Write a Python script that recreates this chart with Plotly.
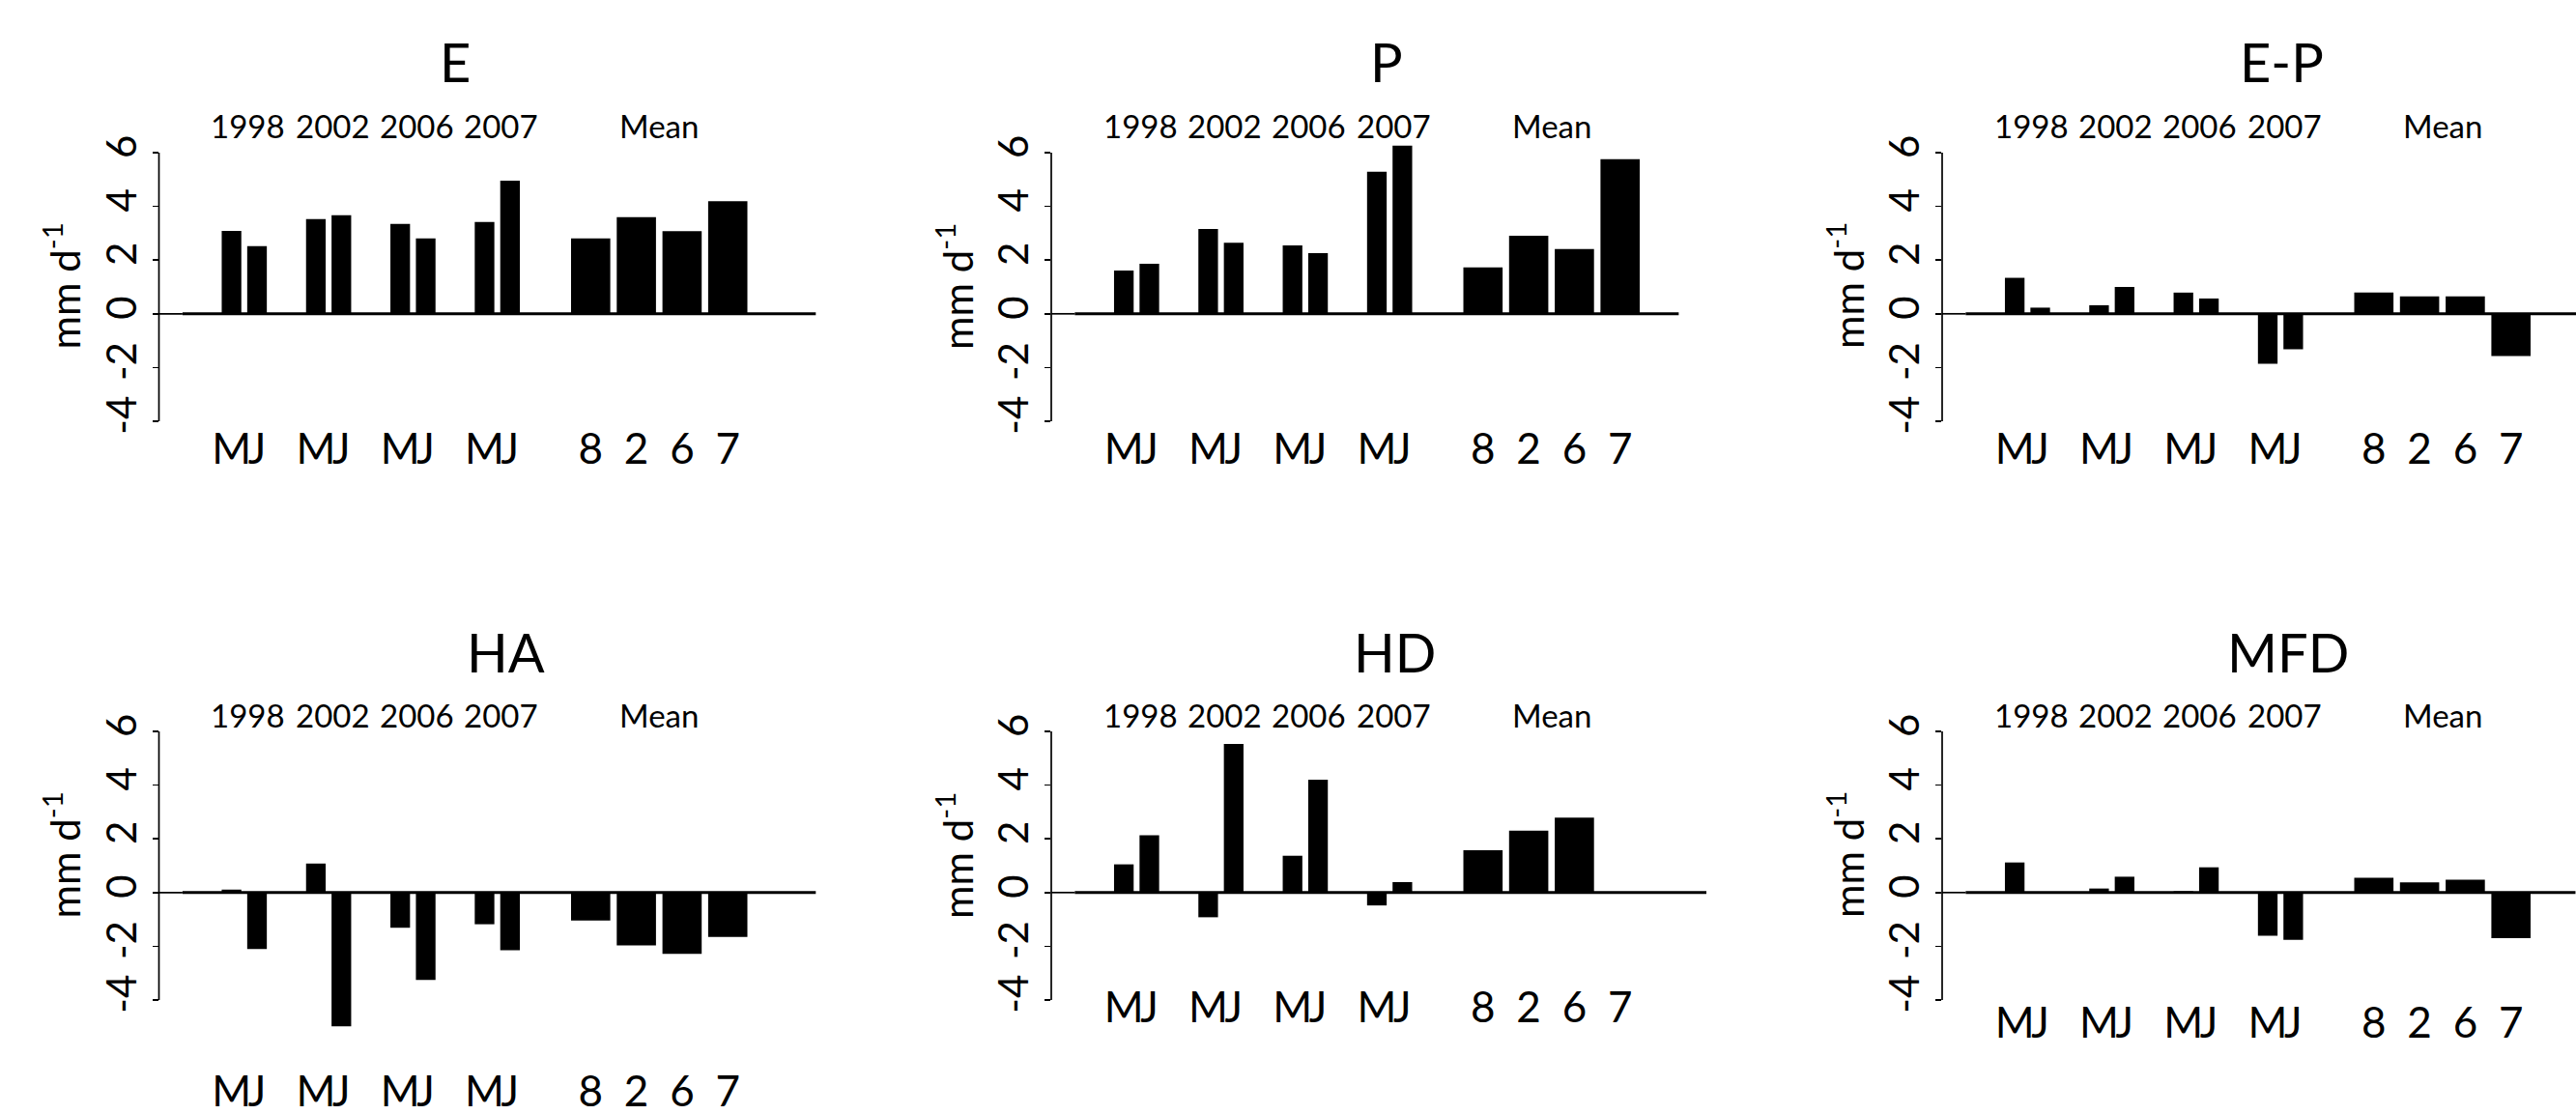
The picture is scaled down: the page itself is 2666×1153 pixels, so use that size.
import plotly.graph_objects as go

W, H = 2666, 1153

# ---------------- data ----------------
panel_names = ["E", "P", "E-P", "HA", "HD", "MFD"]
years = ["1998", "2002", "2006", "2007"]
mean_title = "Mean"
month_labels = ["M", "J"]
mean_labels = ["8", "2", "6", "7"]
y_tick_values = [-4, -2, 0, 2, 4, 6]
y_title = "mm d<sup>-1</sup>"

# May/June values per year: 1998 M, 1998 J, 2002 M, 2002 J, 2006 M, 2006 J, 2007 M, 2007 J
E_mj = [3.09, 2.52, 3.53, 3.67, 3.35, 2.81, 3.42, 4.96]
E_mean = [2.81, 3.60, 3.08, 4.19]
P_mj = [1.61, 1.86, 3.16, 2.65, 2.55, 2.26, 5.29, 6.26]
P_mean = [1.73, 2.91, 2.41, 5.76]
EP_mj = [1.34, 0.23, 0.32, 1.00, 0.79, 0.57, -1.86, -1.32]
EP_mean = [0.79, 0.65, 0.65, -1.57]
HA_mj = [0.11, -2.10, 1.08, -4.98, -1.31, -3.25, -1.18, -2.15]
HA_mean = [-1.04, -1.97, -2.28, -1.65]
HD_mj = [1.05, 2.13, -0.92, 5.53, 1.37, 4.20, -0.48, 0.39]
HD_mean = [1.58, 2.30, 2.79, 0.0]
MFD_mj = [1.12, 0.0, 0.15, 0.59, 0.05, 0.94, -1.61, -1.76]
MFD_mean = [0.55, 0.38, 0.48, -1.70]

mj_series = [E_mj, P_mj, EP_mj, HA_mj, HD_mj, MFD_mj]
mean_series = [E_mean, P_mean, EP_mean, HA_mean, HD_mean, MFD_mean]

# ---------------- layout geometry (pixels) ----------------
FONT = "Lato, 'Open Sans', sans-serif"
u = 20.3                      # px per bar-width unit
first_left = 3.2              # left edge of first bar (units from y axis)
group_pitch = 4.3
mj_offset = 1.3
mean_gap = 4.11
mean_pitch = 2.33
small_w = 1.0
mean_w = 2.0

col_axis_px = [164.5, 1088.0, 2010.0]
row_y0_px = [324.8, 923.8]
px_per_val = 27.8
ymax = 6.6
ymins = [-4.4, -4.4, -4.4, -5.3, -4.4, -4.4]
zero_end = [33.5, 32.0, 32.4, 33.5, 33.4, 32.3]
title_x_px = [471, 1435, 2361, 523, 1443, 2368]
title_y_px = [63.5, 63.5, 63.5, 674, 674, 674]
year_y_px = [129.5, 129.5, 129.5, 739.5, 739.5, 739.5]
xlab_top_px = [447, 447, 447, 1112, 1025, 1041]
ytitle_y_px = [296, 296, 296, 885, 885, 885]
XLAB_OFFSET = 12

# bar positions in units
m_centers = [first_left + small_w / 2 + group_pitch * i for i in range(len(years))]
j_centers = [c + mj_offset for c in m_centers]
mj_centers = []
for m, j in zip(m_centers, j_centers):
    mj_centers += [m, j]
mean_centers = [j_centers[-1] + mean_gap + mean_pitch * k for k in range(len(mean_labels))]
all_centers = mj_centers + mean_centers
all_widths = [small_w] * len(mj_centers) + [mean_w] * len(mean_centers)
all_ticktext = month_labels * len(years) + mean_labels

fig = go.Figure()
annotations = []
shapes = []

for i, name in enumerate(panel_names):
    row, col = divmod(i, 3)
    n = "" if i == 0 else str(i + 1)
    xa, ya = "x" + n, "y" + n
    axis_px = col_axis_px[col]
    right_px = min(W, axis_px + zero_end[i] * u)
    xr = (right_px - axis_px) / u
    y0 = row_y0_px[row]
    top_px = y0 - px_per_val * ymax
    bot_px = y0 - px_per_val * ymins[i]

    values = mj_series[i] + mean_series[i]
    fig.add_trace(go.Bar(
        x=all_centers, y=values, width=all_widths,
        marker=dict(color="black", line=dict(width=0)),
        xaxis=xa, yaxis=ya, showlegend=False, hoverinfo="skip"))

    fig.layout["xaxis" + n] = dict(
        domain=[axis_px / W, right_px / W], range=[0, xr], anchor=ya,
        tickvals=all_centers, ticktext=all_ticktext, tickangle=0, ticks="",
        showgrid=False, zeroline=False, showline=False,
        tickfont=dict(size=44, family=FONT, color="black"),
        ticklabelstandoff=int(round(xlab_top_px[i] - bot_px - XLAB_OFFSET)))
    fig.layout["yaxis" + n] = dict(
        domain=[1 - bot_px / H, 1 - top_px / H], range=[ymins[i], ymax], anchor=xa,
        tickvals=y_tick_values, ticktext=[str(v) for v in y_tick_values],
        tickangle=-90, ticks="outside", ticklen=6, tickwidth=1.7, tickcolor="black",
        showgrid=False, zeroline=False, showline=False,
        tickfont=dict(size=42, family=FONT, color="black"),
        ticklabelstandoff=0)

    # y axis line from -4 to 6
    span = ymax - ymins[i]
    shapes.append(dict(type="line", xref=xa + " domain", yref=ya + " domain",
                       x0=0, x1=0,
                       y0=(y_tick_values[0] - ymins[i]) / span,
                       y1=(y_tick_values[-1] - ymins[i]) / span,
                       line=dict(color="black", width=1.7)))
    # zero line
    shapes.append(dict(type="line", xref=xa, yref=ya, x0=0, x1=1.2, y0=0, y1=0,
                       line=dict(color="black", width=1.7)))
    shapes.append(dict(type="line", xref=xa, yref=ya, x0=1.2, x1=xr, y0=0, y1=0,
                       line=dict(color="black", width=3)))

    # panel title
    annotations.append(dict(text=name, xref="paper", yref="paper",
                            x=title_x_px[i] / W, y=1 - title_y_px[i] / H,
                            xanchor="center", yanchor="middle", showarrow=False,
                            font=dict(size=56, family=FONT, color="black")))
    # year labels
    for k, yr in enumerate(years):
        annotations.append(dict(text=yr, xref=xa, yref="paper",
                                x=(m_centers[k] + j_centers[k]) / 2 + 0.2,
                                y=1 - year_y_px[i] / H,
                                xanchor="center", yanchor="middle", showarrow=False,
                                font=dict(size=33, family=FONT, color="black")))
    annotations.append(dict(text=mean_title, xref=xa, yref="paper",
                            x=(mean_centers[0] + mean_centers[-1]) / 2,
                            y=1 - year_y_px[i] / H,
                            xanchor="center", yanchor="middle", showarrow=False,
                            font=dict(size=33, family=FONT, color="black")))
    # y axis title
    annotations.append(dict(text=y_title, xref="paper", yref="paper",
                            x=(axis_px - 70) / W, y=1 - ytitle_y_px[i] / H,
                            xanchor="right", yanchor="middle", textangle=-90,
                            showarrow=False,
                            font=dict(size=42, family=FONT, color="black")))

fig.update_layout(
    width=W, height=H, template="none",
    margin=dict(l=0, r=0, t=0, b=0),
    paper_bgcolor="white", plot_bgcolor="rgba(0,0,0,0)",
    font=dict(family=FONT, color="black"),
    annotations=annotations, shapes=shapes, showlegend=False)

fig.write_html("out.html",
               config={"displayModeBar": False, "staticPlot": True},
               post_script="document.body.style.margin='0';document.body.style.padding='0';"
                           "document.body.style.overflow='hidden';")
